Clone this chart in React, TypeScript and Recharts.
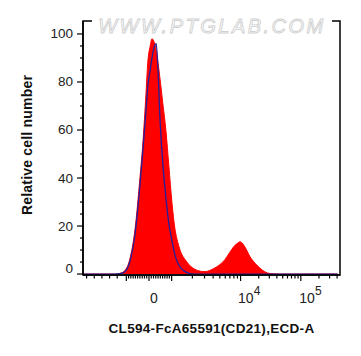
import React from "react";
import {
  ComposedChart,
  Area,
  Line,
  XAxis,
  YAxis,
  ReferenceArea,
  Label,
} from "recharts";

// histogram bin centres on the display scale (1 unit ~ 1 decade, 0 at zero)
const binPos = [
  -1.08, -0.81, -0.56, -0.48, -0.4, -0.32, -0.23, -0.15, -0.1, -0.05, -0.02,
  0.02, 0.05, 0.08, 0.12, 0.15, 0.18, 0.23, 0.28, 0.33, 0.38, 0.43, 0.48, 0.53,
  0.6, 0.68, 0.76, 0.85, 0.93, 1.01, 1.09, 1.18, 1.26, 1.34, 1.41, 1.48, 1.51,
  1.54, 1.61, 1.67, 1.76, 1.84, 1.92, 2.01, 2.17, 2.5, 2.84, 3.13,
];

// CD21 stained sample
const sampleCounts = [
  0, 0, 0, 0.3, 1.5, 6, 19, 40, 55, 75, 88, 95, 98, 97, 93, 88, 82, 71, 60, 45,
  30, 19, 13, 9, 6, 3.5, 2, 1.2, 1, 1.5, 2.5, 4, 6, 9, 11.5, 13, 13.5, 13, 10.5,
  7.5, 4.5, 2.5, 1, 0.2, 0, 0, 0, 0,
];

// unstained / isotype control
const controlCounts = [
  0, 0, 0, 0.2, 1, 5, 17, 37, 52, 68, 78, 85, 90, 94, 96, 85, 66, 46, 32, 21,
  14, 8, 4.5, 2.5, 1, 0.2, 0, 0, 0, 0, 0, 0, 0, 0, 0, 0, 0, 0, 0, 0, 0, 0, 0,
  0, 0, 0, 0, 0,
];

const yMajor = [0, 20, 40, 60, 80, 100];
const yMinor = [5, 10, 15, 25, 30, 35, 45, 50, 55, 65, 70, 75, 85, 90, 95];

// x ticks in fluorescence intensity
const xMajor = [-1000, 0, 1000, 10000, 100000];
const xMinor = [
  -6000, -5000, -4000, -3000, -2000, -900, -800, -700, -600, -500, -400, -300,
  -200, -100, 100, 200, 300, 400, 500, 600, 700, 800, 900, 2000, 3000, 4000,
  5000, 6000, 7000, 8000, 9000, 20000, 30000, 40000, 50000, 60000, 70000, 80000,
  90000, 200000, 300000, 400000,
];
const xLabels: Record<number, [string, string, number]> = {
  0: ["0", "", 1],
  10000: ["10", "4", -2.5],
  100000: ["10", "5", -1.5],
};

const X_MIN = -1.095;
const X_MAX = 3.17;
const Y_MIN = -0.4;
const Y_MAX = 105.4;

// biexponential-ish display transform used by the cytometer plot
function toDisplay(v: number) {
  const lin = 0.376;
  if (Math.abs(v) <= 1000) return (lin * v) / 1000;
  if (v < 0) return -0.4 - 0.127 * (-v / 1000 - 1);
  if (v <= 10000) return lin + 1.144 * Math.log10(v / 1000);
  return 1.52 + Math.log10(v / 10000);
}

const data = binPos.map((x, i) => ({
  x,
  sample: sampleCounts[i],
  control: controlCounts[i],
}));

const xTickInfo = new Map<number, { major: boolean; value: number }>();
xMajor.forEach((v) => xTickInfo.set(toDisplay(v), { major: true, value: v }));
xMinor.forEach((v) => xTickInfo.set(toDisplay(v), { major: false, value: v }));
const xTicks = Array.from(xTickInfo.keys()).filter(
  (t) => t >= X_MIN && t <= X_MAX
);

const font = "'Liberation Sans', Arial, sans-serif";

const XTick = (props: any) => {
  const { x, y, payload } = props;
  const info = xTickInfo.get(payload.value);
  if (!info) return null;
  const lab = xLabels[info.value];
  return (
    <g>
      <line x1={x} x2={x} y1={y} y2={y + (info.major ? 6 : 3.5)} stroke="#000" strokeWidth={1.2} />
      {lab && (
        <text x={x + lab[2]} y={y + 28} fontFamily={font} fontSize={14} fill="#222">
          {lab[0]}
          {lab[1] && (
            <tspan dy={-8} fontSize={12}>
              {lab[1]}
            </tspan>
          )}
        </text>
      )}
    </g>
  );
};

const YTick = (props: any) => {
  const { x, y, payload } = props;
  const major = yMajor.includes(payload.value);
  return (
    <g>
      <line x1={x} x2={x - (major ? 6 : 3)} y1={y} y2={y} stroke="#000" strokeWidth={1.2} />
      {major && (
        <text
          x={x - 10}
          y={y + (payload.value === 0 ? -1 : 4.5)}
          textAnchor="end"
          fontFamily={font}
          fontSize={13.5}
          fill="#222"
        >
          {payload.value}
        </text>
      )}
    </g>
  );
};

export default function App() {
  return (
    <div style={{ position: "absolute", left: 0, top: 0, width: 361, height: 356, background: "#fff" }}>
      <ComposedChart
        width={361}
        height={356}
        data={data}
        margin={{ top: 21, right: 21, left: 0, bottom: 0 }}
      >
        <XAxis
          dataKey="x"
          type="number"
          domain={[X_MIN, X_MAX]}
          allowDataOverflow
          ticks={xTicks}
          interval={0}
          tick={XTick}
          tickLine={false}
          tickSize={0}
          tickMargin={0}
          height={81}
          axisLine={{ stroke: "#000", strokeWidth: 1.5 }}
        >
          <Label
            content={(p: any) => {
              const vb = p.viewBox;
              return (
                <text
                  x={vb.x + vb.width / 2}
                  y={vb.y + 58}
                  textAnchor="middle"
                  fontFamily={font}
                  fontWeight="bold"
                  fontSize={13.5}
                  letterSpacing={0.3}
                  fill="#111"
                >
                  CL594-FcA65591(CD21),ECD-A
                </text>
              );
            }}
          />
        </XAxis>
        <YAxis
          type="number"
          domain={[Y_MIN, Y_MAX]}
          allowDataOverflow
          ticks={[...yMajor, ...yMinor].sort((a, b) => a - b)}
          interval={0}
          tick={YTick}
          tickLine={false}
          tickSize={0}
          tickMargin={0}
          width={83}
          axisLine={{ stroke: "#000", strokeWidth: 1.5 }}
        >
          <Label
            content={(p: any) => {
              const vb = p.viewBox;
              const cy = vb.y + vb.height / 2 - 3;
              return (
                <text
                  x={27}
                  y={cy}
                  transform={`rotate(-90 27 ${cy})`}
                  textAnchor="middle"
                  dominantBaseline="central"
                  fontFamily={font}
                  fontWeight="bold"
                  fontSize={14}
                  letterSpacing={0.2}
                  fill="#111"
                >
                  Relative cell number
                </text>
              );
            }}
          />
        </YAxis>
        <Area
          type="monotone"
          dataKey="sample"
          stroke="#ff0000"
          strokeWidth={1}
          fill="#ff0000"
          fillOpacity={1}
          isAnimationActive={false}
        />
        <Line
          type="monotone"
          dataKey="control"
          stroke="#22209e"
          strokeWidth={1.3}
          dot={false}
          isAnimationActive={false}
        />
        <ReferenceArea
          x1={X_MIN}
          x2={X_MAX}
          y1={Y_MIN}
          y2={Y_MAX}
          fill="none"
          stroke="#000"
          strokeWidth={1.5}
          ifOverflow="visible"
        />
      </ComposedChart>
      <svg
        width={240}
        height={22}
        style={{ position: "absolute", left: 92, top: 14 }}
      >
        <rect x={0} y={0} width={240} height={22} fill="#fff" />
        <text
          x={120}
          y={19}
          textAnchor="middle"
          fontFamily={font}
          fontStyle="italic"
          fontSize={20}
          letterSpacing={2.5}
          fill="#fff"
          stroke="#d0d0d0"
          strokeWidth={0.9}
        >
          WWW.PTGLAB.COM
        </text>
      </svg>
    </div>
  );
}
